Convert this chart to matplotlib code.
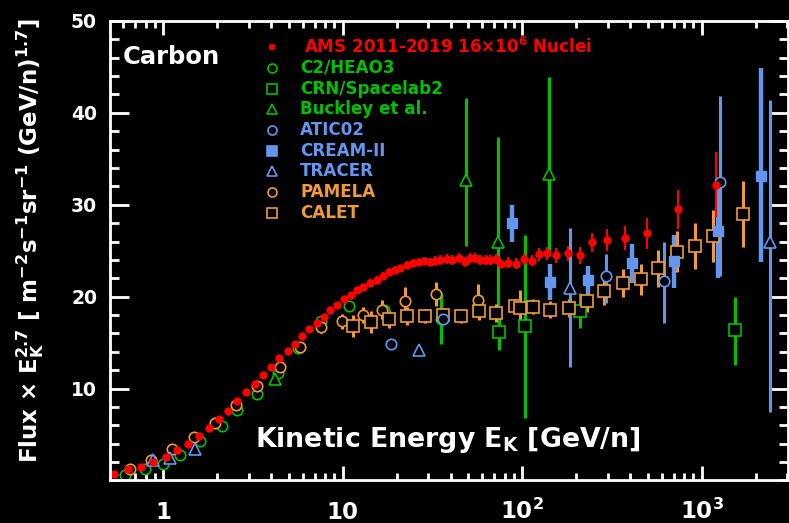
import matplotlib
matplotlib.use('Agg')
import matplotlib.pyplot as plt
from matplotlib.ticker import LogLocator, NullFormatter, MultipleLocator

plt.rcParams['font.family'] = 'DejaVu Sans'
plt.rcParams['font.weight'] = 'bold'
plt.rcParams['mathtext.fontset'] = 'dejavusans'
plt.rcParams['mathtext.default'] = 'bf'

# ---- data (Flux x E^2.7 vs kinetic energy per nucleon) ----
ams_x = [0.53, 0.64, 0.75, 0.88, 1.03, 1.19, 1.37, 1.58, 1.79, 2.04,
         2.29, 2.59, 2.90, 3.25, 3.60, 4.0, 4.44, 4.93, 5.42, 5.95,
         6.53, 7.18, 7.82, 8.52, 9.35, 10.2, 11.1, 12.0, 13.0, 14.2,
         15.5, 16.8, 18.0, 19.6, 20.9, 22.7, 24.8, 26.5, 28.2, 30.6,
         32.7, 34.9, 38.0, 40.5, 44.3, 48.2, 51.5, 54.9, 58.5, 62.5,
         66.6, 71.1, 75.9, 83.5, 92.5, 101.8, 113, 124, 138, 155,
         179, 209, 245, 296, 373, 493, 736, 1196]
ams_y = [0.73, 1.2, 1.5, 2.0, 2.6, 3.3, 4.0, 4.8, 5.7, 6.7,
         7.6, 8.6, 9.6, 10.5, 11.5, 12.4, 13.3, 14.1, 14.9, 15.7,
         16.5, 17.1, 17.8, 18.5, 19.1, 19.7, 20.2, 20.7, 21.1, 21.5,
         21.8, 22.3, 22.7, 22.9, 23.1, 23.5, 23.7, 23.8, 23.9, 23.8,
         23.9, 24.0, 24.1, 24.0, 24.2, 23.8, 24.2, 24.2, 24.0, 24.0,
         24.0, 24.1, 23.6, 23.7, 23.6, 24.1, 23.9, 24.6, 24.7, 24.5,
         24.7, 24.5, 25.9, 26.2, 26.4, 26.9, 29.5, 32.2]
ams_err = [0.1, 0.1, 0.1, 0.1, 0.1, 0.1, 0.1, 0.1, 0.1, 0.1,
           0.1, 0.1, 0.1, 0.1, 0.1, 0.1, 0.1, 0.2, 0.2, 0.2,
           0.2, 0.2, 0.2, 0.3, 0.3, 0.3, 0.3, 0.3, 0.3, 0.4,
           0.4, 0.4, 0.4, 0.4, 0.4, 0.4, 0.4, 0.4, 0.4, 0.4,
           0.5, 0.5, 0.5, 0.5, 0.5, 0.5, 0.5, 0.5, 0.5, 0.5,
           0.5, 0.5, 0.5, 0.6, 0.6, 0.6, 0.6, 0.7, 0.7, 0.8,
           0.8, 0.9, 1.0, 1.2, 1.3, 1.7, 2.1, 3.5]

heao_x = [0.61, 0.79, 1.0, 1.24, 1.61, 2.12, 2.58, 3.35, 4.35, 5.67, 7.55, 10.8, 16.9, 35.5]
heao_y = [0.55, 1.2, 1.75, 2.8, 4.3, 5.9, 7.7, 9.45, 11.7, 14.4, 17.4, 18.95, 18.6, 17.6]
heao_err = [0, 0, 0, 0, 0, 0, 0, 0, 0, 0, 0, 0, 0, 2.8]

crn_x = [74.4, 104, 210, 1540]
crn_y = [16.2, 16.8, 18.4, 16.4]
crn_lo = [2.0, 10.0, 1.8, 3.8]
crn_hi = [2.0, 9.9, 2.0, 3.6]

buck_x = [4.2, 48.7, 73, 141]
buck_y = [11.0, 32.7, 26.0, 33.4]
buck_lo = [0, 7.2, 8.0, 9.0]
buck_hi = [0, 8.9, 11.4, 10.5]

atic_x = [18.5, 36.3, 295, 620, 1260]
atic_y = [14.8, 17.6, 22.2, 21.7, 32.5]
atic_lo = [0, 0, 2.9, 4.6, 10.3]
atic_hi = [0, 0, 2.4, 4.3, 9.3]

cream_x = [87.5, 142, 234, 408, 701, 1228, 2150]
cream_y = [28.0, 21.55, 21.85, 23.7, 23.9, 27.1, 33.1]
cream_lo = [2.1, 1.9, 1.7, 2.2, 3.0, 5.1, 9.3]
cream_hi = [2.0, 2.0, 1.5, 2.0, 2.8, 4.9, 11.8]

tracer_x = [0.88, 1.09, 1.51, 26.5, 185, 2390]
tracer_y = [2.2, 2.5, 3.4, 14.2, 20.9, 26.0]
tracer_lo = [0, 0, 0, 0, 8.5, 18.6]
tracer_hi = [0, 0, 0, 0, 6.6, 15.4]

pam_x = [0.65, 0.85, 1.12, 1.49, 1.95, 2.53, 3.35, 4.45, 5.8, 7.55, 9.9, 13.0, 16.6, 22.3, 33.2, 56.7]
pam_y = [1.3, 2.2, 3.4, 4.75, 6.3, 8.2, 10.25, 12.3, 14.5, 16.7, 17.3, 18.0, 18.6, 19.5, 20.3, 19.6]
pam_err = [0.1, 0.1, 0.1, 0.1, 0.1, 0.2, 0.2, 0.3, 0.4, 0.7, 0.8, 0.9, 1.0, 1.6, 1.3, 1.8]

calet_x = [11.4, 14.3, 18.0, 22.8, 28.6, 36.3, 45.6, 57.2, 71.5, 90.9, 97.7, 114.5,
           142, 183, 229, 287, 363, 457, 574, 727, 913, 1152, 1700]
calet_y = [16.8, 17.2, 17.6, 17.9, 17.9, 18.0, 17.9, 18.4, 18.2, 19.0, 18.8, 18.9,
           18.6, 18.8, 19.5, 20.6, 21.5, 21.9, 23.1, 24.9, 25.5, 26.6, 29.0]
calet_err = [1.2, 1.2, 1.0, 1.0, 0.8, 0.8, 0.8, 0.9, 1.0, 0.8, 1.9, 0.8,
             0.9, 1.0, 1.2, 1.5, 1.5, 1.7, 2.0, 2.2, 2.5, 2.8, 3.6]

RED = '#ff0000'
GREEN = '#00c000'
BLUE = '#6496f0'
ORANGE = '#f09a3c'

fig = plt.figure(figsize=(7.89, 5.23), dpi=100, facecolor='black')
ax = fig.add_axes([0.1388, 0.0813, 0.8600, 0.8786], facecolor='black')

ekw = dict(ls='none', mec=None, mew=1.2, mfc='black', capsize=0)
ax.errorbar(heao_x, heao_y, yerr=heao_err, marker='o', ms=7.5, color=GREEN, elinewidth=2.2, **ekw)
ax.errorbar(crn_x, crn_y, yerr=[crn_lo, crn_hi], marker='s', ms=8, color=GREEN, elinewidth=2.2, **ekw)
ax.errorbar(buck_x, buck_y, yerr=[buck_lo, buck_hi], marker='^', ms=8, color=GREEN, elinewidth=2.2, **ekw)
ax.errorbar(pam_x, pam_y, yerr=pam_err, marker='o', ms=7.5, color=ORANGE, elinewidth=2.2, **ekw)
ax.errorbar(calet_x, calet_y, yerr=calet_err, marker='s', ms=8, color=ORANGE, elinewidth=2.2, **ekw)
ax.errorbar(atic_x, atic_y, yerr=[atic_lo, atic_hi], marker='o', ms=7.5, color=BLUE, elinewidth=2.2, **ekw)
ax.errorbar(tracer_x, tracer_y, yerr=[tracer_lo, tracer_hi], marker='^', ms=8, color=BLUE, elinewidth=2.2, **ekw)
ax.errorbar(cream_x, cream_y, yerr=[cream_lo, cream_hi], marker='s', ms=6.5, color=BLUE, mfc=BLUE,
            ls='none', elinewidth=3.2, capsize=0)
ax.errorbar(ams_x, ams_y, yerr=ams_err, marker='o', ms=5, color=RED, mec=RED, mfc=RED,
            ls='none', elinewidth=1.5, capsize=0)

ax.set_xscale('log')
ax.set_xlim(0.502, 3030)
ax.set_ylim(0, 50)

ax.set_xticks([1, 10, 100, 1000], ['1', '10', '10$^2$', '10$^3$'])
ax.xaxis.set_minor_locator(LogLocator(base=10, subs=(2, 3, 4, 5, 6, 7, 8, 9), numticks=20))
ax.xaxis.set_minor_formatter(NullFormatter())
ax.set_yticks([10, 20, 30, 40, 50])
ax.yaxis.set_minor_locator(MultipleLocator(2))

for s in ax.spines.values():
    s.set_color('white')
    s.set_linewidth(2)
ax.tick_params(which='both', direction='in', top=True, right=True, colors='white', width=2)
ax.tick_params(axis='y', which='major', length=13.5, labelsize=13.5, pad=9)
ax.tick_params(axis='y', which='minor', length=6.5)
ax.tick_params(axis='x', which='major', length=10, labelsize=16.5, pad=28)
ax.tick_params(axis='x', which='minor', length=5)
for t in ax.get_xticklabels():
    t.set_va('baseline')

fig.text(0.038, 0.54, r'Flux $\times$ E$_K^{2.7}$ [ m$^{-2}$s$^{-1}$sr$^{-1}$ (GeV/n)$^{1.7}$]',
         rotation=90, ha='center', va='center', color='white', fontsize=16.5)
ax.text(0.2144, 0.073, 'Kinetic Energy E$_K$ [GeV/n]', transform=ax.transAxes,
        color='white', fontsize=19.3, ha='left', va='baseline')
ax.text(0.02, 0.9217, 'Carbon', transform=ax.transAxes, color='white', fontsize=17.5,
        ha='left', va='center')

# legend built by hand
leg_labels = ['AMS 2011-2019 16$\\times$10$^6$ Nuclei', 'C2/HEAO3', 'CRN/Spacelab2', 'Buckley et al.',
              'ATIC02', 'CREAM-II', 'TRACER', 'PAMELA', 'CALET']
leg_colors = [RED, GREEN, GREEN, GREEN, BLUE, BLUE, BLUE, ORANGE, ORANGE]
leg_markers = ['s', 'o', 's', '^', 'o', 's', '^', 'o', 's']
leg_sizes = [3.5, 6.5, 6.5, 6.5, 6.5, 6.5, 6.5, 6.5, 6.5]
leg_fill = [RED, 'black', 'black', 'black', 'black', BLUE, 'black', 'black', 'black']
y0, dy = 0.9428, 0.045
for i, lab in enumerate(leg_labels):
    yy = y0 - i * dy
    ax.plot([0.2395], [yy], marker=leg_markers[i], ms=leg_sizes[i], color=leg_colors[i],
            mfc=leg_fill[i], mew=1.2, transform=ax.transAxes, clip_on=False)
    ax.text(0.2808 if i else 0.287, yy, lab, transform=ax.transAxes, color=leg_colors[i],
            fontsize=12.1, ha='left', va='center')

fig.savefig('out.png', dpi=100, facecolor='black')
